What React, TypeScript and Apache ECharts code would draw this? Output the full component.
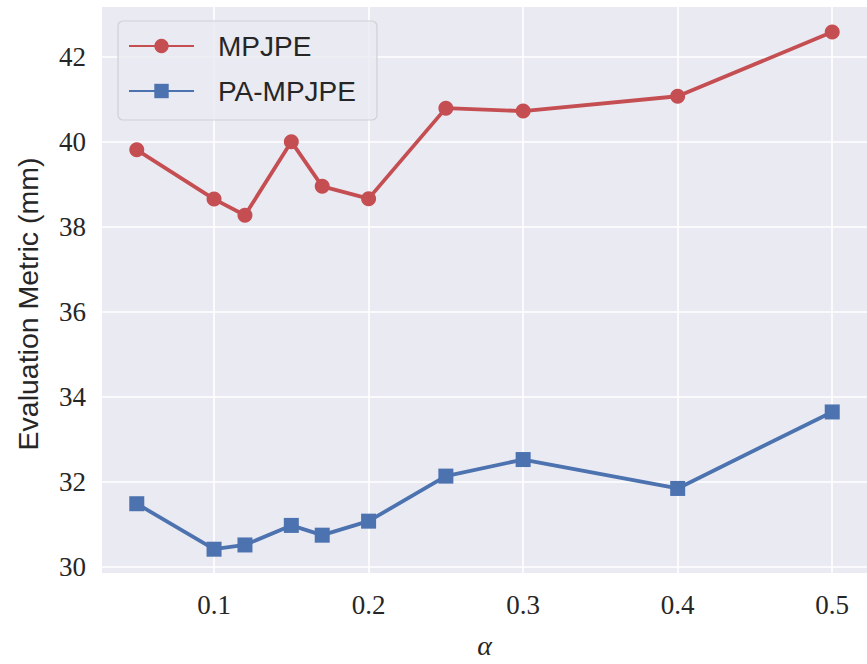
import React, { useEffect, useRef } from "react";
import * as echarts from "echarts";

const alphas = [0.05, 0.1, 0.12, 0.15, 0.17, 0.2, 0.25, 0.3, 0.4, 0.5];
const mpjpe = [39.81, 38.65, 38.27, 40.0, 38.95, 38.66, 40.79, 40.72, 41.07, 42.58];
const paMpjpe = [31.48, 30.41, 30.51, 30.97, 30.74, 31.07, 32.13, 32.52, 31.84, 33.64];
const xTicks = [0.1, 0.2, 0.3, 0.4, 0.5];
const yTicks = [30, 32, 34, 36, 38, 40, 42];
const seriesNames = ["MPJPE", "PA-MPJPE"];

export default function App() {
  const ref = useRef<HTMLDivElement>(null);
  useEffect(() => {
    document.body.style.margin = "0";
    const chart = echarts.init(ref.current!, null, { renderer: "svg" });
    const tickFont = { fontFamily: "Liberation Serif", fontSize: 27, color: "#262626" };
    chart.setOption({
      animation: false,
      backgroundColor: "#ffffff",
      grid: {
        left: 102,
        top: 7,
        width: 767,
        height: 570,
        show: true,
        backgroundColor: "#EAEAF2",
        borderWidth: 0,
      },
      legend: {
        left: 118,
        top: 21,
        orient: "vertical",
        data: seriesNames,
        itemWidth: 65,
        itemHeight: 18,
        itemGap: 15,
        padding: [10, 21, 14, 10],
        backgroundColor: "rgba(234,234,242,0.85)",
        borderColor: "#cfcfd6",
        borderWidth: 1.2,
        borderRadius: 5,
        textStyle: {
          fontFamily: "Liberation Sans",
          fontSize: 28,
          color: "#262626",
          lineHeight: 30,
          padding: [0, 0, 0, 19],
        },
      },
      xAxis: {
        type: "value",
        min: 0.0275,
        max: 0.5225,
        name: "α",
        nameLocation: "middle",
        nameGap: 58,
        nameTextStyle: {
          fontFamily: "Liberation Serif",
          fontStyle: "italic",
          fontSize: 28,
          color: "#262626",
        },
        axisLine: { show: false },
        axisTick: { show: false, customValues: xTicks },
        axisLabel: {
          ...tickFont,
          margin: 18,
          customValues: xTicks,
          formatter: (v: number) => v.toFixed(1),
        },
        splitLine: { show: true, lineStyle: { color: "#ffffff", width: 1.6 } },
      },
      yAxis: {
        type: "value",
        min: 29.85,
        max: 43.17,
        name: "Evaluation Metric (mm)",
        nameLocation: "middle",
        nameGap: 60,
        nameTextStyle: {
          fontFamily: "Liberation Sans",
          fontSize: 28.5,
          color: "#262626",
          padding: [0, 28, 0, 0],
        },
        axisLine: { show: false },
        axisTick: { show: false, customValues: yTicks },
        axisLabel: {
          ...tickFont,
          margin: 16,
          customValues: yTicks,
          formatter: (v: number) => String(Math.round(v)),
        },
        splitLine: { show: true, lineStyle: { color: "#ffffff", width: 1.6 } },
      },
      series: [
        {
          name: seriesNames[0],
          type: "line",
          data: alphas.map((a, i) => [a, mpjpe[i]]),
          symbol: "circle",
          symbolSize: 15,
          lineStyle: { color: "#C44E52", width: 3.8 },
          itemStyle: { color: "#C44E52" },
          z: 3,
        },
        {
          name: seriesNames[1],
          type: "line",
          data: alphas.map((a, i) => [a, paMpjpe[i]]),
          symbol: "rect",
          symbolSize: 15,
          lineStyle: { color: "#4C72B0", width: 3.8 },
          itemStyle: { color: "#4C72B0" },
          z: 3,
        },
      ],
    });
    return () => chart.dispose();
  }, []);
  return <div ref={ref} style={{ width: 867, height: 664 }} />;
}
